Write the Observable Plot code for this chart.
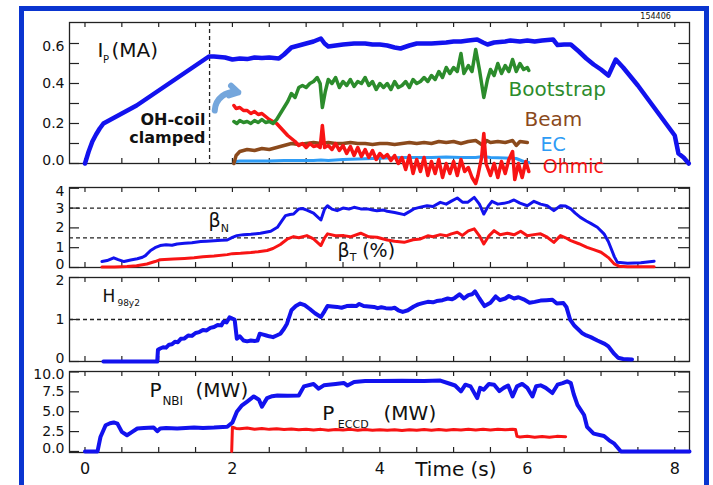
<!DOCTYPE html>
<html><head><meta charset="utf-8">
<script src="https://cdn.jsdelivr.net/npm/d3@7"></script>
<script src="https://cdn.jsdelivr.net/npm/@observablehq/plot@0.6"></script>
<style>
html,body{margin:0;padding:0;background:#fff;width:713px;height:485px;overflow:hidden;position:relative;font-family:"DejaVu Sans",sans-serif;}
#border{position:absolute;left:19px;top:6px;width:680px;height:520px;border:5px solid #0a35d0;}
.panel{position:absolute;left:0;}
.panel svg{overflow:visible;}
</style></head><body>
<div id="border"></div>
<div id="p1" class="panel" style="top:10px"></div>
<div id="p2" class="panel" style="top:180px"></div>
<div id="p3" class="panel" style="top:270px"></div>
<div id="p4" class="panel" style="top:364px"></div>
<script>
// ---------- Panel 1: plasma current and its components (MA) ----------
const ipT = [0,0.05,0.1,0.15,0.2,0.25,0.35,0.5,0.7,0.9,1.1,1.3,1.5,1.68,1.75,1.9,2.0,2.1,2.2,2.3,2.4,2.5,2.63,2.7,2.8,2.9,3.0,3.1,3.2,3.25,3.3,3.4,3.5,3.65,3.8,3.9,4.0,4.1,4.2,4.28,4.4,4.5,4.7,4.9,5.0,5.1,5.2,5.32,5.4,5.46,5.55,5.7,5.77,5.9,6.0,6.1,6.2,6.35,6.41,6.5,6.59,6.7,6.8,6.9,7.0,7.1,7.2,7.3,7.5,7.7,7.9,8.0,8.05,8.12,8.19];
const ipV = [0,0.06,0.11,0.145,0.175,0.2,0.22,0.25,0.29,0.34,0.39,0.44,0.49,0.535,0.535,0.53,0.52,0.525,0.522,0.53,0.527,0.53,0.525,0.545,0.58,0.59,0.6,0.61,0.625,0.6,0.585,0.59,0.595,0.6,0.6,0.595,0.595,0.59,0.58,0.575,0.59,0.6,0.6,0.605,0.61,0.61,0.615,0.62,0.605,0.595,0.605,0.61,0.615,0.61,0.615,0.61,0.615,0.62,0.592,0.595,0.595,0.56,0.525,0.495,0.47,0.44,0.52,0.48,0.39,0.29,0.19,0.14,0.05,0.03,0.0];

const bsT = [2.02,2.06,2.1,2.15,2.2,2.25,2.3,2.35,2.4,2.45,2.5,2.55,2.6,2.65,2.7,2.75,2.8,2.85,2.9,2.95,3.0,3.05,3.1,3.15,3.19,3.22,3.26,3.3,3.35,3.4,3.45,3.5,3.55,3.6,3.65,3.7,3.75,3.8,3.85,3.9,3.95,4.0,4.05,4.1,4.15,4.2,4.25,4.3,4.35,4.4,4.45,4.5,4.55,4.6,4.65,4.7,4.75,4.8,4.85,4.9,4.95,5.0,5.05,5.1,5.14,5.2,5.25,5.3,5.35,5.41,5.46,5.5,5.55,5.6,5.65,5.7,5.75,5.8,5.85,5.9,5.95,6.0,6.02];
const bsV = [0.21,0.2,0.215,0.205,0.21,0.2,0.215,0.205,0.22,0.205,0.21,0.2,0.22,0.25,0.28,0.31,0.35,0.33,0.38,0.39,0.38,0.4,0.41,0.43,0.4,0.28,0.36,0.42,0.4,0.43,0.38,0.41,0.39,0.42,0.385,0.41,0.4,0.43,0.39,0.41,0.37,0.4,0.38,0.4,0.37,0.41,0.38,0.39,0.41,0.38,0.42,0.4,0.41,0.43,0.41,0.44,0.42,0.46,0.43,0.48,0.45,0.48,0.46,0.55,0.45,0.49,0.46,0.57,0.47,0.33,0.42,0.47,0.44,0.5,0.45,0.49,0.46,0.52,0.46,0.5,0.47,0.48,0.465];

const ohT = [2.02,2.05,2.1,2.15,2.2,2.25,2.3,2.35,2.4,2.45,2.5,2.55,2.6,2.65,2.7,2.75,2.8,2.85,2.9,2.95,3.0,3.05,3.1,3.15,3.19,3.22,3.25,3.3,3.35,3.4,3.45,3.5,3.55,3.6,3.65,3.7,3.75,3.8,3.85,3.9,3.95,4.0,4.05,4.1,4.15,4.2,4.25,4.3,4.35,4.4,4.45,4.5,4.55,4.6,4.65,4.7,4.75,4.8,4.85,4.9,4.95,5.0,5.05,5.1,5.15,5.2,5.25,5.3,5.33,5.38,5.41,5.44,5.5,5.55,5.6,5.65,5.7,5.75,5.8,5.83,5.88,5.93,5.98,6.02];
const ohV = [0.29,0.275,0.28,0.265,0.265,0.25,0.26,0.245,0.25,0.235,0.22,0.21,0.2,0.18,0.16,0.14,0.125,0.11,0.09,0.1,0.08,0.1,0.085,0.09,0.08,0.19,0.08,0.09,0.07,0.1,0.065,0.09,0.05,0.085,0.04,0.08,0.035,0.07,0.03,0.065,0.02,0.05,0.03,0.045,0.015,0.04,0.0,0.03,-0.03,0.04,-0.05,0.02,-0.04,0.03,-0.06,0.01,-0.05,0.02,-0.07,0.0,-0.05,0.01,-0.06,0.02,-0.04,-0.02,-0.07,-0.1,-0.06,0.03,0.15,0.0,-0.06,0.0,-0.07,0.01,-0.05,0.02,0.06,-0.08,0.0,-0.07,0.01,-0.04];

const bmT = [2.02,2.05,2.1,2.15,2.2,2.3,2.4,2.5,2.6,2.7,2.8,2.9,3.0,3.1,3.2,3.3,3.4,3.5,3.6,3.7,3.8,3.9,4.0,4.1,4.2,4.3,4.4,4.5,4.6,4.7,4.8,4.9,5.0,5.1,5.2,5.3,5.4,5.45,5.5,5.6,5.7,5.8,5.85,5.9,6.0];
const bmV = [0.0,0.04,0.06,0.065,0.07,0.065,0.075,0.07,0.08,0.09,0.1,0.095,0.1,0.105,0.1,0.105,0.1,0.1,0.105,0.1,0.1,0.095,0.1,0.1,0.095,0.1,0.105,0.1,0.105,0.1,0.11,0.105,0.11,0.1,0.11,0.115,0.09,0.115,0.105,0.11,0.105,0.115,0.09,0.11,0.105];

const ecT = [2.02,2.05,2.1,2.3,2.5,2.7,2.9,3.1,3.2,3.3,3.5,3.7,3.9,4.1,4.3,4.5,4.7,4.9,5.1,5.3,5.4,5.5,5.7,5.85,5.95,6.02];
const ecV = [0.0,0.01,0.012,0.013,0.012,0.015,0.015,0.015,0.018,0.015,0.02,0.022,0.025,0.027,0.03,0.03,0.03,0.032,0.03,0.03,0.035,0.03,0.028,0.025,0.01,0.005];

const clampTime = [1.69];

// ---------- Panel 2: beta_N and beta_T (%) ----------
const bnT = [0.23,0.3,0.39,0.45,0.53,0.62,0.71,0.78,0.82,0.89,0.95,1.02,1.1,1.18,1.25,1.35,1.45,1.57,1.65,1.75,1.85,1.93,2.0,2.06,2.15,2.25,2.38,2.45,2.52,2.61,2.67,2.72,2.78,2.83,2.9,2.95,3.01,3.1,3.2,3.25,3.29,3.35,3.42,3.5,3.58,3.65,3.74,3.83,3.9,3.96,4.05,4.1,4.2,4.33,4.4,4.46,4.55,4.64,4.72,4.82,4.9,4.97,5.05,5.12,5.19,5.28,5.35,5.41,5.47,5.52,5.6,5.68,5.75,5.82,5.9,6.0,6.09,6.18,6.27,6.36,6.45,6.52,6.59,6.65,6.72,6.8,6.86,6.95,7.04,7.1,7.13,7.18,7.22,7.36,7.54,7.72];
const bnV = [0.3,0.35,0.49,0.4,0.3,0.38,0.44,0.52,0.6,0.86,1.0,1.11,1.15,1.12,1.19,1.22,1.25,1.31,1.33,1.35,1.37,1.39,1.52,1.61,1.66,1.68,1.73,1.78,1.83,2.03,2.35,2.62,2.68,2.7,2.96,2.98,2.9,2.75,2.4,2.95,3.12,2.95,2.87,3.0,2.95,3.04,2.96,2.96,2.9,2.87,2.9,2.84,2.78,2.67,2.82,2.96,3.05,3.12,3.08,3.29,3.2,3.35,3.51,3.3,3.29,3.54,3.2,2.7,3.1,3.34,3.2,3.24,3.3,3.41,3.25,3.12,3.34,3.2,3.12,2.87,3.12,3.1,2.96,2.75,2.53,2.35,2.23,2.03,1.7,1.3,1.02,0.55,0.27,0.22,0.24,0.32];

const btT = [0.23,0.4,0.57,0.7,0.84,0.95,1.02,1.2,1.35,1.48,1.6,1.75,1.93,2.0,2.11,2.25,2.35,2.47,2.55,2.65,2.75,2.83,2.9,3.01,3.1,3.2,3.25,3.29,3.4,3.51,3.6,3.74,3.85,3.96,4.1,4.2,4.33,4.45,4.55,4.65,4.72,4.82,4.9,4.97,5.05,5.12,5.2,5.28,5.35,5.41,5.48,5.55,5.63,5.73,5.82,5.91,6.0,6.09,6.18,6.27,6.36,6.45,6.52,6.59,6.7,6.81,6.9,7.0,7.1,7.18,7.25,7.36,7.72];
const btV = [0.02,0.03,0.05,0.09,0.18,0.3,0.39,0.43,0.46,0.49,0.54,0.58,0.65,0.7,0.72,0.76,0.8,0.86,0.96,1.16,1.45,1.56,1.5,1.61,1.45,1.11,1.5,1.7,1.6,1.61,1.55,1.73,1.55,1.53,1.39,1.33,1.27,1.4,1.44,1.6,1.55,1.66,1.6,1.7,1.78,1.62,1.85,1.95,1.6,1.19,1.6,1.86,1.65,1.73,1.65,1.83,1.6,1.66,1.7,1.53,1.27,1.61,1.5,1.36,1.2,1.02,0.9,0.77,0.5,0.18,0.06,0.04,0.04];
const betaRefs = [3, 1.5];

// ---------- Panel 3: H98y2 ----------
const hT = [0.25,0.98,0.99,1.02,1.06,1.1,1.14,1.18,1.22,1.26,1.3,1.35,1.4,1.45,1.5,1.55,1.6,1.65,1.7,1.75,1.8,1.85,1.88,1.92,1.96,2.0,2.03,2.06,2.1,2.15,2.2,2.25,2.3,2.34,2.37,2.42,2.46,2.5,2.55,2.6,2.65,2.7,2.74,2.8,2.86,2.92,2.98,3.05,3.12,3.2,3.25,3.29,3.35,3.42,3.48,3.55,3.62,3.68,3.72,3.78,3.85,3.92,3.97,4.02,4.08,4.15,4.2,4.25,4.31,4.38,4.46,4.52,4.58,4.65,4.72,4.77,4.85,4.92,4.98,5.02,5.08,5.14,5.2,5.25,5.29,5.35,5.42,5.5,5.57,5.63,5.7,5.75,5.82,5.88,5.95,6.03,6.1,6.18,6.26,6.34,6.4,6.49,6.53,6.58,6.64,6.7,6.74,6.8,6.86,6.95,7.05,7.1,7.14,7.18,7.23,7.3,7.42];
const hV = [0,0,0.28,0.31,0.34,0.33,0.4,0.41,0.47,0.46,0.54,0.55,0.62,0.61,0.68,0.7,0.75,0.74,0.8,0.82,0.87,0.86,0.95,0.93,1.05,1.02,1.0,0.54,0.6,0.5,0.48,0.5,0.49,0.5,0.66,0.64,0.62,0.6,0.58,0.62,0.66,0.78,0.9,1.22,1.32,1.38,1.34,1.25,1.15,1.06,1.2,1.32,1.31,1.3,1.28,1.32,1.33,1.32,1.37,1.32,1.31,1.3,1.27,1.29,1.27,1.26,1.28,1.22,1.18,1.22,1.31,1.36,1.39,1.42,1.41,1.44,1.46,1.5,1.48,1.52,1.6,1.5,1.58,1.6,1.67,1.5,1.32,1.4,1.55,1.46,1.5,1.56,1.5,1.53,1.48,1.4,1.42,1.45,1.46,1.47,1.38,1.39,1.3,1.0,0.85,0.75,0.68,0.62,0.58,0.5,0.42,0.36,0.27,0.18,0.09,0.06,0.05];
const hRef = [1];

// ---------- Panel 4: heating power (MW) ----------
const nbT = [0,0.17,0.21,0.28,0.34,0.39,0.44,0.5,0.57,0.63,0.71,0.8,0.93,0.98,1.02,1.1,1.25,1.48,1.6,1.75,1.93,2.0,2.06,2.13,2.2,2.29,2.36,2.4,2.47,2.54,2.61,2.75,2.9,2.97,3.1,3.17,3.24,3.4,3.51,3.56,3.65,3.8,4.0,4.3,4.6,4.82,4.96,5.02,5.1,5.16,5.23,5.32,5.36,5.41,5.48,5.55,5.62,5.68,5.74,5.8,5.86,5.93,6.0,6.07,6.12,6.18,6.25,6.34,6.41,6.48,6.54,6.59,6.63,6.68,6.77,6.81,6.9,7.04,7.11,7.18,7.27,8.2];
const nbV = [0,0,1.82,3.3,3.55,3.65,3.5,2.46,2.04,2.4,2.89,2.95,3.02,2.55,2.89,2.95,2.9,3.02,2.95,3.0,3.1,3.65,5.0,5.8,6.28,6.92,6.5,5.64,6.71,6.95,7.04,7.0,7.04,8.19,8.49,7.9,8.32,8.5,8.62,8.3,8.75,8.85,8.85,8.9,8.88,8.92,8.49,8.3,7.55,8.4,8.19,6.71,8.0,7.77,8.5,8.4,7.6,8.0,8.3,6.92,8.19,8.5,8.0,6.92,8.2,8.32,8.0,7.35,8.4,8.6,8.83,8.6,7.2,5.86,4.59,3.1,2.25,1.95,1.4,0.98,0,0];

const ecdT = [1.99,2.0,2.05,2.1,2.2,2.3,2.4,2.5,2.6,2.7,2.8,2.9,3.0,3.1,3.2,3.3,3.4,3.5,3.6,3.7,3.8,3.9,4.0,4.1,4.2,4.3,4.4,4.5,4.6,4.7,4.8,4.9,5.0,5.1,5.2,5.3,5.4,5.5,5.6,5.7,5.8,5.84,5.86,5.9,6.0,6.1,6.2,6.3,6.4,6.52];
const ecdV = [0,3.05,2.9,2.85,2.95,2.8,2.88,2.78,2.85,2.75,2.82,2.72,2.8,2.7,2.78,2.68,2.76,2.7,2.78,2.68,2.75,2.66,2.74,2.66,2.72,2.64,2.74,2.66,2.75,2.68,2.76,2.66,2.76,2.7,2.78,2.7,2.78,2.7,2.8,2.72,2.8,2.75,1.9,1.82,1.9,1.8,1.88,1.78,1.9,1.85];

// ---------- tick values ----------
const xTickLabels = [0, 2, 4, 6, 8];
const xMinor = [0,0.5,1,1.5,2,2.5,3,3.5,4,4.5,5,5.5,6,6.5,7,7.5,8];
const ipTicks = [0,0.1,0.2,0.3,0.4,0.5,0.6];
const ipLabels = [0,0.2,0.4,0.6];
const betaTicks = [0,1,2,3,4];
const hTicks = [0,1,2];
const pTicks = [0,2.5,5,7.5,10];

const rows = (t, v) => t.map((d, i) => ({t: d, v: v[i]}));
const XD = [-0.21, 8.2];
const W = 713, ML = 69, MR = 24, FW = W - ML - MR;
const BLUE = "#1212ee", RED = "#f81414";
const FONT = "DejaVu Sans, sans-serif";

function decor(yTicks, yLabels, yFmt, fh) {
  const lo = yLabels[0], hi = yLabels[yLabels.length - 1];
  const mid = yLabels.slice(1, -1);
  const lab = (ticks, dy) => Plot.axisY({ticks, anchor: "left", tickSize: 0, tickPadding: 5, tickFormat: yFmt, fontSize: 14, label: null, dy});
  return [
    Plot.frame({stroke: "#222", strokeWidth: 1.3}),
    Plot.tickX(xMinor, {x: d => d, insetTop: fh - 5, stroke: "#222", strokeWidth: 1.2}),
    Plot.tickX(xMinor, {x: d => d, insetBottom: fh - 5, stroke: "#222", strokeWidth: 1.2}),
    Plot.tickY(yTicks, {y: d => d, insetRight: FW - 10, stroke: "#222", strokeWidth: 1.2}),
    Plot.tickY(yTicks, {y: d => d, insetLeft: FW - 11, stroke: "#222", strokeWidth: 1.2}),
    lab([lo], -3),
    lab(mid, 0),
    lab([hi], 3)
  ];
}
function txt(t, v, s, o = {}) {
  return Plot.text([{t, v, s}], {x: "t", y: "v", text: "s", textAnchor: "start", fontSize: 20, fill: "#111", ...o});
}
function base(h, mt, mb, yd, marks) {
  return Plot.plot({
    width: W, height: h, marginLeft: ML, marginRight: MR, marginTop: mt, marginBottom: mb,
    x: {domain: XD, axis: null}, y: {domain: yd, axis: null},
    style: {background: "transparent", fontFamily: FONT, color: "#111"},
    marks
  });
}

// Panel 1
document.getElementById("p1").append(base(190, 12, 37, [0, 0.705], [
  ...decor(ipTicks, ipLabels, d3.format(".1f"), 141),
  Plot.ruleX(clampTime, {stroke: "#222", strokeDasharray: "4,3", strokeWidth: 1.3}),
  Plot.line(rows(ecT, ecV), {x: "t", y: "v", stroke: "#2e9cf5", strokeWidth: 3}),
  Plot.line(rows(bmT, bmV), {x: "t", y: "v", stroke: "#8b4a1c", strokeWidth: 3.5}),
  Plot.line(rows(ohT, ohV), {x: "t", y: "v", stroke: RED, strokeWidth: 3.5}),
  Plot.line(rows(bsT, bsV), {x: "t", y: "v", stroke: "#2c8c2c", strokeWidth: 3.5}),
  Plot.line(rows(ipT, ipV), {x: "t", y: "v", stroke: BLUE, strokeWidth: 4.5, strokeLinejoin: "round"}),
  Plot.arrow([{a: 1.76, b: 0.265, c: 2.08, d: 0.355}], {x1: "a", y1: "b", x2: "c", y2: "d", bend: 50, stroke: "#74a6dc", strokeWidth: 6, headLength: 9}),
  txt(0.17, 0.565, "I"),
  txt(0.245, 0.52, "P", {fontSize: 10}),
  txt(0.36, 0.565, "(MA)"),
  txt(1.635, 0.22, "OH-coil", {textAnchor: "end", fontSize: 16, fontWeight: "bold"}),
  txt(1.635, 0.13, "clamped", {textAnchor: "end", fontSize: 16, fontWeight: "bold"}),
  txt(5.746, 0.37, "Bootstrap", {fill: "#2c8c2c"}),
  txt(5.963, 0.22, "Beam", {fill: "#8b4a1c"}),
  txt(6.18, 0.092, "EC", {fill: "#2e9cf5", fontSize: 19}),
  txt(6.21, -0.017, "Ohmic", {fill: RED, fontSize: 19}),
  txt(7.74, 0.735, "154406", {textAnchor: "middle", fontSize: 8})
]));

// Panel 2
document.getElementById("p2").append(base(95, 7, 8, [0, 4.04], [
  ...decor(betaTicks, betaTicks, d3.format("d"), 80),
  Plot.ruleY(betaRefs, {stroke: "#222", strokeDasharray: "4,3", strokeWidth: 1.3}),
  Plot.line(rows(btT, btV), {x: "t", y: "v", stroke: RED, strokeWidth: 3}),
  Plot.line(rows(bnT, bnV), {x: "t", y: "v", stroke: BLUE, strokeWidth: 3}),
  txt(1.676, 2.37, "β", {fontSize: 19}),
  txt(1.84, 1.96, "N", {fontSize: 11}),
  txt(3.426, 0.86, "β", {fontSize: 19}),
  txt(3.59, 0.5, "T", {fontSize: 11}),
  txt(3.76, 0.86, "(%)", {fontSize: 19})
]));

// Panel 3
document.getElementById("p3").append(base(97, 7, 6, [0, 2.0], [
  ...decor(hTicks, hTicks, d3.format("d"), 84),
  Plot.ruleY(hRef, {stroke: "#222", strokeDasharray: "4,3", strokeWidth: 1.3}),
  Plot.line(rows(hT, hV), {x: "t", y: "v", stroke: BLUE, strokeWidth: 4}),
  txt(0.237, 1.55, "H", {fontSize: 17}),
  txt(0.44, 1.38, "98y2", {fontSize: 9})
]));

// Panel 4
document.getElementById("p4").append(base(121, 7, 33, [-0.13, 10.06], [
  ...decor(pTicks, pTicks, d3.format(".1f"), 81),
  Plot.axisX({ticks: xTickLabels, anchor: "bottom", tickSize: 0, tickPadding: 10, fontSize: 16, label: null}),
  Plot.line(rows(ecdT, ecdV), {x: "t", y: "v", stroke: RED, strokeWidth: 3}),
  Plot.line(rows(nbT, nbV), {x: "t", y: "v", stroke: BLUE, strokeWidth: 4}),
  txt(0.875, 7.64, "P"),
  txt(1.05, 6.3, "NBI", {fontSize: 12}),
  txt(1.5, 7.64, "(MW)"),
  txt(3.22, 4.71, "P"),
  txt(3.43, 3.45, "ECCD", {fontSize: 11}),
  txt(4.05, 4.71, "(MW)"),
  txt(4.48, -2.3, "Time (s)")
]));
</script></body></html>
